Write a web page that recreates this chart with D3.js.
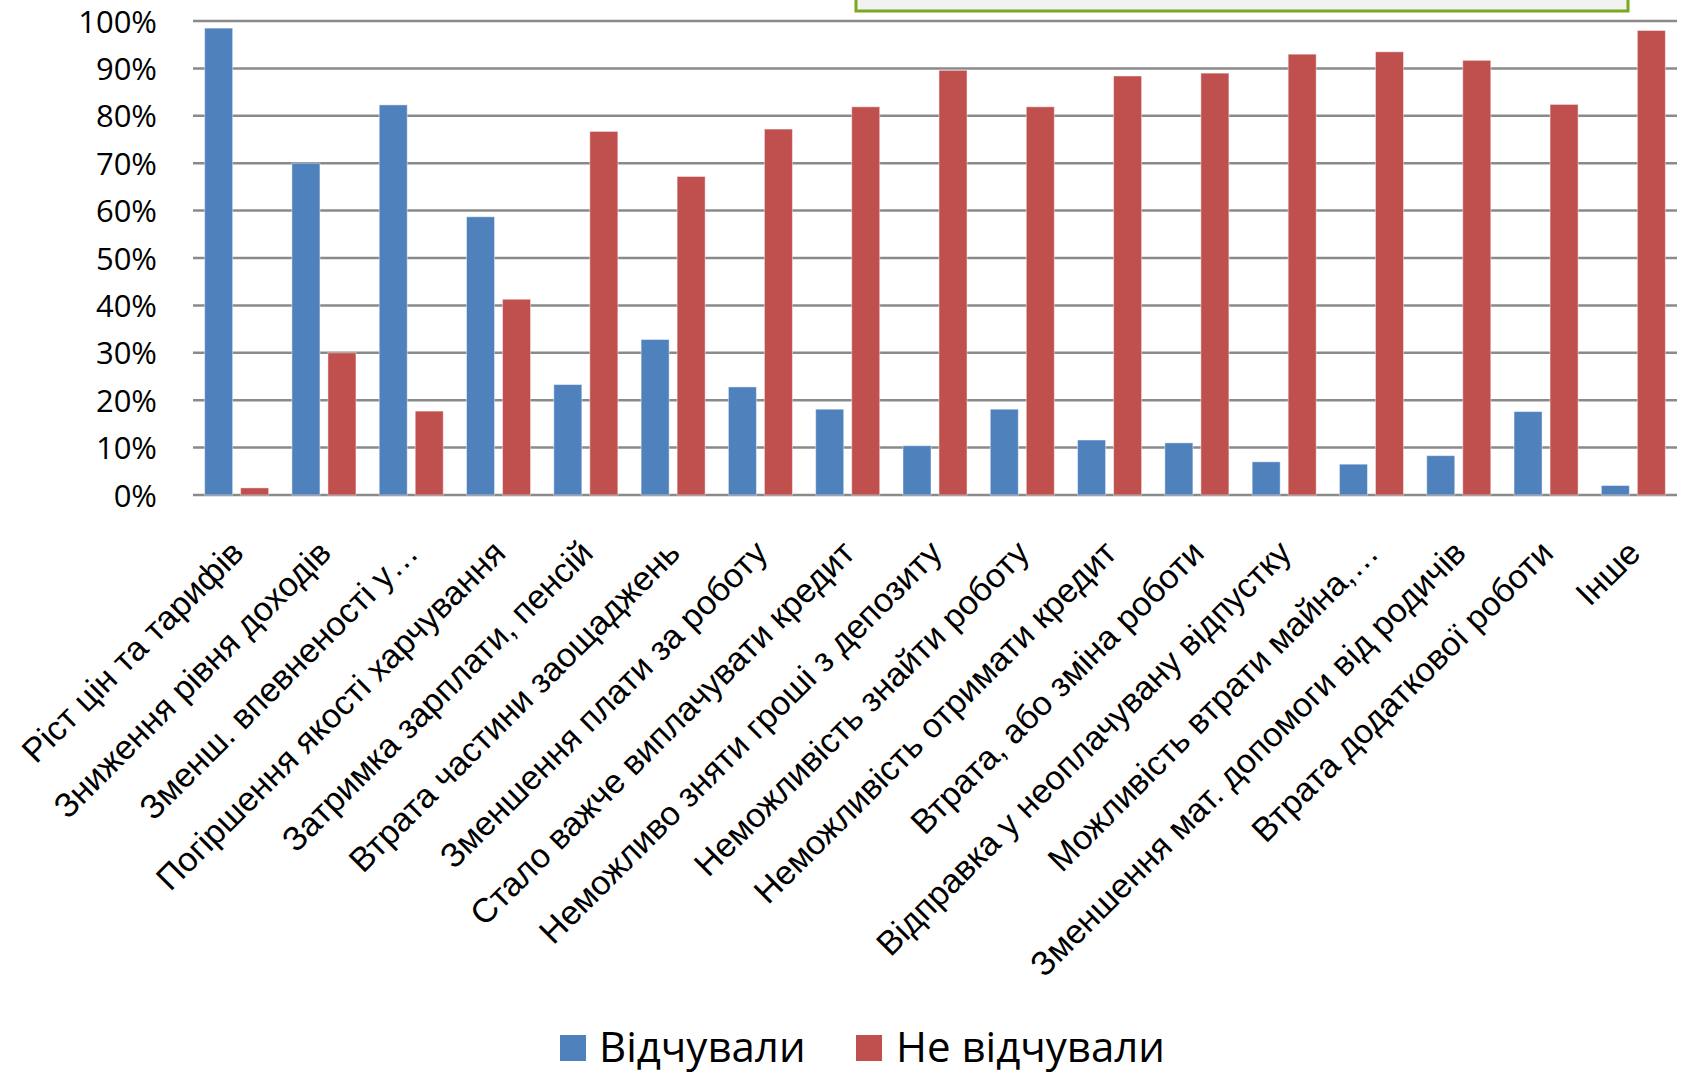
<!DOCTYPE html>
<html>
<head>
<meta charset="utf-8">
<script src="https://cdn.jsdelivr.net/npm/d3@7"></script>
<style>
  html, body { margin: 0; padding: 0; background: #ffffff; }
  svg { display: block; }
</style>
</head>
<body>
<svg id="chart" width="1682" height="1075"></svg>
<script>
const categories = [
  "Ріст цін та тарифів",
  "Зниження рівня доходів",
  "Зменш. впевненості у…",
  "Погіршення якості харчування",
  "Затримка зарплати, пенсій",
  "Втрата частини заощаджень",
  "Зменшення плати за роботу",
  "Стало важче виплачувати кредит",
  "Неможливо зняти гроші з депозиту",
  "Неможливість знайти роботу",
  "Неможливість отримати кредит",
  "Втрата, або зміна роботи",
  "Відправка у неоплачувану відпустку",
  "Можливість втрати майна,…",
  "Зменшення мат. допомоги від родичів",
  "Втрата додаткової роботи",
  "Інше"
];
const seriesNames = ["Відчували", "Не відчували"];
const feltValues    = [0.985, 0.700, 0.823, 0.587, 0.233, 0.328, 0.228, 0.181, 0.104, 0.181, 0.116, 0.110, 0.070, 0.065, 0.083, 0.176, 0.020];
const notFeltValues = [0.015, 0.300, 0.177, 0.413, 0.767, 0.672, 0.772, 0.819, 0.896, 0.819, 0.884, 0.890, 0.930, 0.935, 0.917, 0.824, 0.980];
const yTicks = [0, 0.1, 0.2, 0.3, 0.4, 0.5, 0.6, 0.7, 0.8, 0.9, 1.0];
const seriesColors = ["#4f81bd", "#c0504d"];

const svg = d3.select("#chart");
const plotLeft = 193, plotRight = 1677, plotTop = 21, plotBottom = 495;

const x0 = d3.scaleBand().domain(categories).range([plotLeft, plotRight]).paddingInner(0).paddingOuter(0);
const x1 = d3.scaleBand().domain(seriesNames).range([0, x0.bandwidth()]).paddingInner(0.222).paddingOuter(0.323);
const y = d3.scaleLinear().domain([0, 1]).range([plotBottom, plotTop]);

// top green box (cut off)
svg.append("rect")
  .attr("x", 856).attr("y", -20).attr("width", 772).attr("height", 31)
  .attr("fill", "#f2f2f2").attr("stroke", "#7aa81e").attr("stroke-width", 3);

// gridlines
svg.append("g").selectAll("line").data(yTicks).join("line")
  .attr("x1", plotLeft).attr("x2", plotRight)
  .attr("y1", d => y(d)).attr("y2", d => y(d))
  .attr("stroke", "#8a8a8a").attr("stroke-width", 2.5);

// y axis labels
const yAxis = d3.axisLeft(y).tickValues(yTicks).tickFormat(d3.format(".0%")).tickSize(0).tickPadding(36);
const gy = svg.append("g").attr("transform", `translate(${plotLeft},0)`).call(yAxis);
gy.select(".domain").remove();
gy.selectAll("text")
  .attr("font-family", "'Open Sans', sans-serif")
  .attr("font-size", 31)
  .attr("fill", "#000")
  .attr("dy", "0.36em");

// bars
const rows = categories.map((c, i) => ({cat: c, vals: [feltValues[i], notFeltValues[i]]}));
const groups = svg.append("g").selectAll("g").data(rows).join("g")
  .attr("transform", d => `translate(${x0(d.cat)},0)`);
groups.selectAll("rect").data(d => d.vals.map((v, k) => ({series: seriesNames[k], v, k}))).join("rect")
  .attr("x", d => x1(d.series))
  .attr("width", x1.bandwidth())
  .attr("y", d => y(d.v))
  .attr("height", d => y(0) - y(d.v))
  .attr("fill", d => seriesColors[d.k])
  .attr("stroke", "rgba(255,255,255,0.45)")
  .attr("stroke-width", 1);

// x axis labels
const xAxis = d3.axisBottom(x0).tickSize(0).tickPadding(0);
const gx = svg.append("g").attr("transform", `translate(0,${plotBottom})`)
  .attr("font-family", "'Liberation Sans', Arial, sans-serif")
  .call(xAxis);
gx.attr("font-family", "'Liberation Sans', Arial, sans-serif");
gx.select(".domain").remove();
gx.selectAll("text")
  .style("font-family", "'Liberation Sans', Arial, sans-serif")
  .attr("font-size", 34)
  .attr("fill", "#000")
  .attr("text-anchor", "end")
  .attr("x", 0).attr("y", 0).attr("dy", 0)
  .attr("transform", "translate(9,60) rotate(-45)");

// legend
const legendItems = [
  {name: seriesNames[0], color: seriesColors[0], sx: 560, tx: 599},
  {name: seriesNames[1], color: seriesColors[1], sx: 856, tx: 896}
];
const lg = svg.append("g");
lg.selectAll("rect").data(legendItems).join("rect")
  .attr("x", d => d.sx).attr("y", 1035).attr("width", 26).attr("height", 26)
  .attr("fill", d => d.color);
lg.selectAll("text").data(legendItems).join("text")
  .attr("x", d => d.tx).attr("y", 1062)
  .attr("font-family", "'Open Sans', sans-serif")
  .attr("font-size", 42)
  .attr("fill", "#000")
  .text(d => d.name);
</script>
</body>
</html>
